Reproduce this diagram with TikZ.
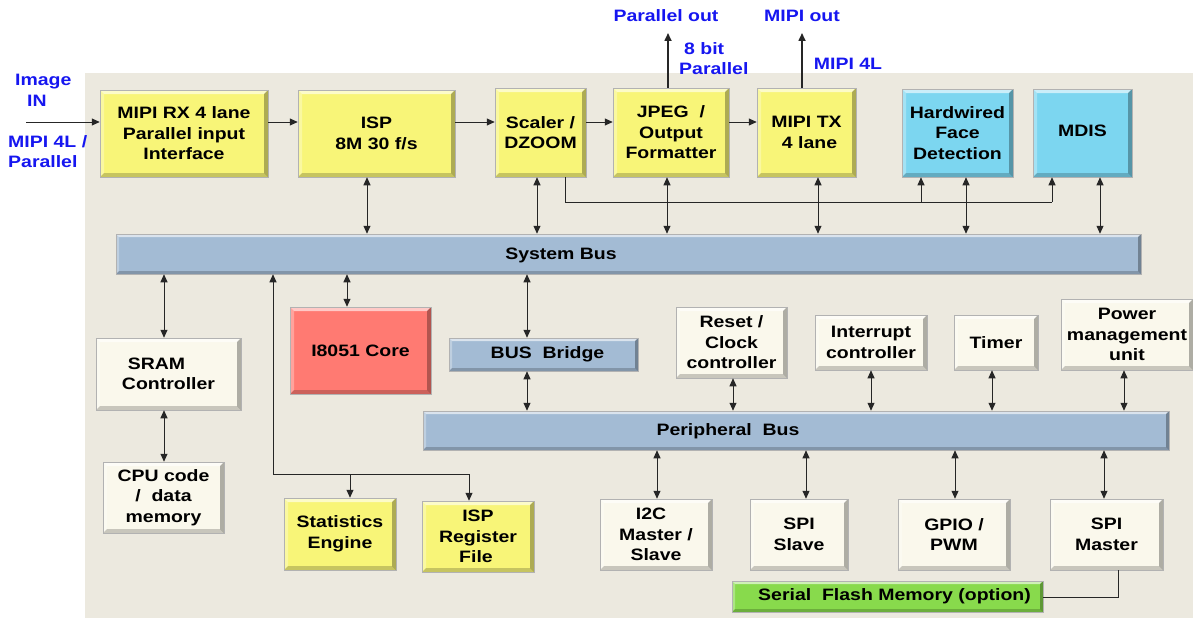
\documentclass[tikz,border=0pt]{standalone}
\usepackage{fontspec}
\setmainfont[FakeStretch=1.18]{Liberation Sans}
\usetikzlibrary{arrows.meta}
\definecolor{cyel}{RGB}{248,245,120}
\definecolor{ccyan}{RGB}{124,214,240}
\definecolor{cbus}{RGB}{163,187,212}
\definecolor{ccream}{RGB}{250,248,236}
\definecolor{cred}{RGB}{255,122,114}
\definecolor{cgreen}{RGB}{136,218,76}
\definecolor{cbg}{RGB}{236,233,223}
\definecolor{cblue}{RGB}{22,22,240}
\newcommand\boxfont{\bfseries\fontsize{16.5}{20.5}\selectfont}
\begin{document}
\begin{tikzpicture}[x=1pt,y=-1pt,
  bevel/.style={path picture={
    \path (path picture bounding box.north west) coordinate (pNW)
          (path picture bounding box.north east) coordinate (pNE)
          (path picture bounding box.south west) coordinate (pSW)
          (path picture bounding box.south east) coordinate (pSE);
    \fill[white,opacity=.6] (pNW) -- (pNE) -- ([xshift=-#1pt,yshift=-#1pt]pNE) -- ([xshift=#1pt,yshift=-#1pt]pNW) -- cycle;
    \fill[white,opacity=.3] (pNW) -- ([xshift=#1pt,yshift=-#1pt]pNW) -- ([xshift=#1pt,yshift=#1pt]pSW) -- (pSW) -- cycle;
    \fill[black,opacity=.2] (pSW) -- ([xshift=#1pt,yshift=#1pt]pSW) -- ([xshift=-#1pt,yshift=#1pt]pSE) -- (pSE) -- cycle;
    \fill[black,opacity=.3] (pNE) -- ([xshift=-#1pt,yshift=-#1pt]pNE) -- ([xshift=-#1pt,yshift=#1pt]pSE) -- (pSE) -- cycle;
  }},
  bevel/.default=4,
  box/.style={draw=black!30, line width=0.5pt, inner sep=0pt, align=center, font=\boxfont, text=black, bevel},
  yel/.style={box, fill=cyel},
  cyn/.style={box, fill=ccyan},
  crm/.style={box, fill=ccream},
  redbox/.style={box, fill=cred},
  grn/.style={box, fill=cgreen, bevel=3},
  bus/.style={box, fill=cbus, bevel=3},
  lbl/.style={font=\boxfont, inner sep=0pt, align=center, text=black},
  blu/.style={lbl, text=cblue},
  con/.style={line width=0.9pt, draw=black!85},
  arr/.style={con, -{Triangle[length=8pt,width=7pt]}},
  dbl/.style={con, {Triangle[length=8pt,width=7pt]}-{Triangle[length=8pt,width=7pt]}}
]
\useasboundingbox (0,0) rectangle (1193,618);
\fill[cbg] (85,73) rectangle (1193,618);

% top row
\node[yel, minimum width=168, minimum height=87] (rx) at (184,133.5) {MIPI RX 4 lane\\Parallel input\\Interface};
\node[yel, minimum width=157, minimum height=87] (isp) at (376.5,133.5) {ISP\\8M 30 f/s};
\node[yel, minimum width=91, minimum height=89] (scl) at (540.5,132.5) {Scaler /\\DZOOM};
\node[yel, minimum width=116, minimum height=89] (jpeg) at (671,132.5) {JPEG\ \ /\\Output\\Formatter};
\node[yel, minimum width=99, minimum height=89] (tx) at (806.5,132.5) {MIPI TX\\\hspace*{6pt}4 lane};
\node[cyn, minimum width=111, minimum height=88] (face) at (957.5,133) {Hardwired\\Face\\Detection};
\node[cyn, minimum width=99, minimum height=88] (mdis) at (1082.5,133) {\raisebox{4pt}{MDIS}};

% system bus
\node[bus, minimum width=1025, minimum height=40] (sys) at (628.5,254) {};
\node[lbl] (syslbl) at (561,255) {System Bus};

% middle
\node[crm, minimum width=145, minimum height=72] (sram) at (168.5,374) {SRAM\hspace*{24pt}\\Controller};
\node[crm, minimum width=121, minimum height=71] (cpu) at (163.5,497.5) {CPU code\\/\ \ data\\memory};
\node[redbox, minimum width=141, minimum height=87] (core) at (360.5,350.5) {I8051 Core};
\node[bus, minimum width=189, minimum height=33] (bridge) at (543.5,354.5) {\hspace*{8pt}BUS\ \ Bridge};
\node[yel, minimum width=112, minimum height=72] (stat) at (340,534) {Statistics\\Engine};
\node[yel, minimum width=112, minimum height=71] (ispreg) at (478,536.5) {ISP\\Register\\File\hspace*{4pt}};

\node[crm, minimum width=111, minimum height=71] (reset) at (731.5,342.5) {Reset /\\Clock\\controller};
\node[crm, minimum width=112, minimum height=55] (intr) at (871,342.5) {Interrupt\\controller};
\node[crm, minimum width=84, minimum height=55] (timer) at (996,342.5) {Timer};
\node[crm, minimum width=132, minimum height=71] (power) at (1127,334.5) {Power\\management\\unit};

% peripheral bus
\node[bus, minimum width=746, minimum height=39] (pbus) at (796,430.5) {};
\node[lbl] (pbuslbl) at (728,431) {Peripheral\ \ Bus};

\node[crm, minimum width=112, minimum height=71] (i2c) at (656,534.5) {I2C\hspace*{10pt}\\Master /\\Slave};
\node[crm, minimum width=98, minimum height=71] (spis) at (799,534.5) {SPI\\Slave};
\node[crm, minimum width=112, minimum height=71] (gpio) at (954,534.5) {GPIO /\\PWM};
\node[crm, minimum width=113, minimum height=71] (spim) at (1106.5,534.5) {SPI\\Master};
\node[grn, minimum width=311, minimum height=31] (flash) at (887.5,596.5) {\hspace*{14pt}Serial\ \ Flash Memory (option)};

% outside labels
\node[blu, anchor=west, align=left] (imgin) at (15,90.5) {Image\\\hspace*{12pt}IN};
\node[blu, anchor=west, align=left] (mipiin) at (8,151.5) {MIPI 4L /\\Parallel};
\node[blu] (plout) at (666,16) {Parallel out};
\node[blu] (mipiout) at (802,16) {MIPI out};
\node[blu, anchor=west, align=left] (bit8) at (679,58.5) {\hspace*{5pt}8 bit\\Parallel};
\node[blu] (mipi4l) at (848,64) {MIPI 4L};

% coordinates
\coordinate (inS) at (26,122);
\coordinate (pout) at (668,33);
\coordinate (mout) at (802,33);
\coordinate (jA) at (565,202);
\coordinate (jB) at (921,202);
\coordinate (jC) at (1052,202);
\coordinate (jD) at (273,474);
\coordinate (jE) at (350,474);
\coordinate (jF) at (469,474);
\coordinate (jG) at (1118,597);

% data path
\draw[arr] (inS) -- (rx.west |- inS);
\draw[arr] (rx.east |- inS) -- (isp.west |- inS);
\draw[arr] (isp.east |- inS) -- (scl.west |- inS);
\draw[arr] (scl.east |- inS) -- (jpeg.west |- inS);
\draw[arr] (jpeg.east |- inS) -- (tx.west |- inS);
\draw[arr, line width=1.6pt] (pout |- jpeg.north) -- (pout);
\draw[arr, line width=1.6pt] (mout |- tx.north) -- (mout);

% top to system bus
\draw[dbl] (367,0 |- isp.south) -- (367,0 |- sys.north);
\draw[dbl] (537,0 |- scl.south) -- (537,0 |- sys.north);
\draw[dbl] (667,0 |- jpeg.south) -- (667,0 |- sys.north);
\draw[dbl] (818,0 |- tx.south) -- (818,0 |- sys.north);
\draw[dbl] (966,0 |- face.south) -- (966,0 |- sys.north);
\draw[dbl] (1100,0 |- mdis.south) -- (1100,0 |- sys.north);
\draw[con] (jA |- scl.south) -- (jA) -- (jC);
\draw[arr] (jB) -- (jB |- face.south);
\draw[arr] (jC) -- (jC |- mdis.south);

% below system bus
\draw[dbl] (164,0 |- sys.south) -- (164,0 |- sram.north);
\draw[dbl] (164,0 |- sram.south) -- (164,0 |- cpu.north);
\draw[dbl] (347,0 |- sys.south) -- (347,0 |- core.north);
\draw[dbl] (527,0 |- sys.south) -- (527,0 |- bridge.north);
\draw[dbl] (527,0 |- bridge.south) -- (527,0 |- pbus.north);
\draw[arr] (jD) -- (jD |- sys.south);
\draw[con] (jD) -- (jF);
\draw[arr] (jE) -- (jE |- stat.north);
\draw[arr] (jF) -- (jF |- ispreg.north);

% peripheral bus
\draw[dbl] (733,0 |- reset.south) -- (733,0 |- pbus.north);
\draw[dbl] (871,0 |- intr.south) -- (871,0 |- pbus.north);
\draw[dbl] (992,0 |- timer.south) -- (992,0 |- pbus.north);
\draw[dbl] (1124,0 |- power.south) -- (1124,0 |- pbus.north);
\draw[dbl] (657,0 |- pbus.south) -- (657,0 |- i2c.north);
\draw[dbl] (806,0 |- pbus.south) -- (806,0 |- spis.north);
\draw[dbl] (955,0 |- pbus.south) -- (955,0 |- gpio.north);
\draw[dbl] (1104,0 |- pbus.south) -- (1104,0 |- spim.north);
\draw[con] (jG |- spim.south) -- (jG) -- (jG -| flash.east);
\end{tikzpicture}
\end{document}
